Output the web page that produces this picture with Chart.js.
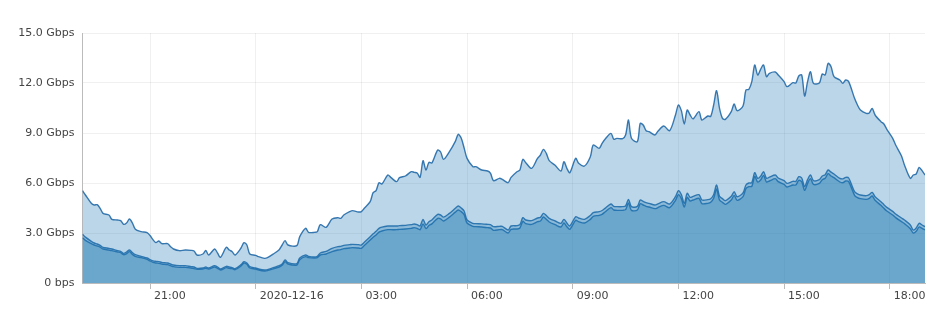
<!DOCTYPE html>
<html><head><meta charset="utf-8">
<script src="https://cdn.jsdelivr.net/npm/chart.js@4.4.1/dist/chart.umd.min.js"></script>
<style>html,body{margin:0;padding:0;background:#fff;}#wrap{width:943px;height:317px;position:relative;}</style>
</head><body><div id="wrap"><canvas id="c"></canvas></div>
<script>
// sample times in minutes relative to 2020-12-16 00:00 (negative = 2020-12-15)
const minutes = [-295,-290,-280,-275,-270,-265,-260,-250,-245,-235,-230,-225,-220,-215,-210,-205,-195,-185,-180,-175,-170,-165,-160,-150,-145,-140,-130,-120,-110,-105,-100,-90,-85,-80,-70,-65,-60,-50,-45,-40,-35,-25,-20,-15,-10,0,5,15,20,30,40,45,50,55,70,75,85,90,100,105,110,120,130,140,145,150,160,165,175,180,185,195,200,205,210,215,225,230,240,245,255,265,270,275,280,285,290,295,300,310,315,320,330,340,345,350,355,360,370,375,385,395,400,405,415,420,430,435,445,450,455,460,470,480,485,490,495,500,510,520,525,530,535,545,550,560,570,575,585,590,595,605,610,615,625,630,635,640,650,655,660,665,670,680,685,695,705,715,720,725,730,735,740,745,755,760,770,775,780,785,790,795,800,810,815,820,830,835,840,845,850,855,860,865,870,875,885,890,900,905,915,920,925,930,935,940,945,950,960,965,970,975,980,985,995,1000,1005,1010,1020,1025,1030,1040,1045,1050,1055,1065,1070,1075,1085,1090,1100,1105,1115,1120,1125,1130,1135,1140];
const totalGbps = [5.54,5.28,4.78,4.68,4.70,4.48,4.18,4.08,3.82,3.78,3.74,3.52,3.60,3.84,3.60,3.22,3.08,3.02,2.85,2.60,2.42,2.52,2.36,2.36,2.18,2.04,1.94,1.98,1.96,1.92,1.68,1.74,1.95,1.68,2.04,1.80,1.54,2.14,1.98,1.88,1.68,2.10,2.42,2.28,1.74,1.66,1.58,1.48,1.52,1.74,2.00,2.28,2.54,2.28,2.24,2.78,3.28,3.04,3.04,3.08,3.50,3.34,3.84,3.92,3.88,4.08,4.28,4.34,4.26,4.28,4.48,4.88,5.42,5.54,6.02,5.94,6.48,6.34,6.08,6.32,6.42,6.68,6.64,6.60,6.34,7.34,6.78,7.24,7.20,7.98,7.86,7.42,7.88,8.50,8.92,8.70,8.10,7.48,6.98,6.98,6.78,6.72,6.58,6.14,6.28,6.22,6.02,6.34,6.68,6.78,7.42,7.22,6.88,7.48,7.68,8.02,7.78,7.34,7.06,6.72,7.28,6.88,6.62,7.48,7.18,7.02,7.58,8.28,8.08,8.38,8.62,8.98,8.62,8.68,8.66,8.88,9.78,8.68,8.48,9.58,9.48,9.14,9.08,8.88,9.10,9.42,9.14,10.08,10.68,10.34,9.54,10.38,10.08,9.85,10.28,9.78,10.02,10.00,10.68,11.54,10.48,9.88,9.82,10.28,10.74,10.34,10.62,11.58,11.62,12.08,13.08,12.48,12.82,13.08,12.38,12.58,12.66,12.48,12.08,11.78,12.02,12.00,12.42,12.48,11.22,12.08,12.68,11.98,12.00,12.54,12.48,13.18,12.98,12.38,12.18,11.98,12.18,12.08,11.08,10.68,10.38,10.18,10.20,10.48,10.08,9.68,9.54,9.22,8.68,8.28,7.62,7.08,6.28,6.48,6.54,6.94,6.74,6.48];
const upperGbps = [2.92,2.75,2.50,2.40,2.34,2.26,2.14,2.08,2.04,1.94,1.90,1.78,1.86,1.98,1.82,1.70,1.60,1.50,1.40,1.33,1.30,1.28,1.24,1.20,1.14,1.08,1.04,1.04,0.98,0.96,0.88,0.90,0.96,0.90,1.04,0.96,0.84,1.00,0.96,0.92,0.86,1.10,1.28,1.20,0.98,0.90,0.84,0.78,0.80,0.92,1.04,1.14,1.38,1.22,1.16,1.50,1.68,1.60,1.56,1.60,1.80,1.90,2.08,2.18,2.20,2.26,2.30,2.32,2.30,2.28,2.45,2.78,2.95,3.10,3.28,3.35,3.42,3.42,3.42,3.44,3.46,3.50,3.54,3.50,3.42,3.82,3.48,3.68,3.78,4.12,4.08,3.95,4.18,4.48,4.62,4.50,4.32,3.78,3.58,3.56,3.55,3.52,3.50,3.38,3.40,3.40,3.18,3.42,3.44,3.50,3.92,3.78,3.74,3.90,3.94,4.18,4.05,3.88,3.72,3.58,3.82,3.60,3.42,3.98,3.90,3.82,4.05,4.22,4.28,4.35,4.48,4.74,4.60,4.58,4.58,4.62,5.02,4.58,4.60,4.98,4.90,4.82,4.78,4.68,4.75,4.88,4.74,5.18,5.54,5.30,4.78,5.38,5.14,5.20,5.30,4.98,5.00,5.06,5.30,5.88,5.20,5.06,4.94,5.20,5.48,5.18,5.40,5.88,6.00,6.02,6.62,6.28,6.40,6.68,6.28,6.35,6.48,6.30,6.14,5.98,6.10,6.10,6.38,6.30,5.78,6.20,6.48,6.14,6.20,6.42,6.50,6.78,6.65,6.54,6.28,6.25,6.34,6.30,5.48,5.35,5.28,5.24,5.30,5.44,5.18,4.88,4.70,4.54,4.30,4.14,3.90,3.78,3.48,3.18,3.30,3.58,3.48,3.38];
const lowerGbps = [2.72,2.56,2.36,2.28,2.22,2.15,2.04,1.98,1.94,1.86,1.82,1.70,1.76,1.88,1.72,1.60,1.52,1.42,1.32,1.24,1.20,1.18,1.14,1.10,1.04,0.98,0.94,0.94,0.90,0.86,0.82,0.84,0.88,0.84,0.96,0.88,0.78,0.92,0.88,0.86,0.80,1.02,1.20,1.12,0.90,0.84,0.78,0.72,0.74,0.85,0.96,1.06,1.28,1.14,1.08,1.40,1.58,1.52,1.50,1.52,1.68,1.74,1.88,1.98,2.00,2.06,2.10,2.12,2.10,2.08,2.25,2.58,2.75,2.88,3.05,3.12,3.20,3.20,3.20,3.22,3.24,3.28,3.32,3.28,3.20,3.55,3.26,3.45,3.55,3.88,3.85,3.72,3.95,4.25,4.38,4.28,4.10,3.60,3.40,3.38,3.36,3.32,3.30,3.16,3.20,3.20,3.00,3.22,3.24,3.30,3.70,3.56,3.52,3.68,3.72,3.96,3.82,3.66,3.50,3.36,3.60,3.38,3.22,3.76,3.68,3.60,3.82,4.00,4.06,4.12,4.26,4.52,4.38,4.36,4.36,4.40,4.80,4.36,4.38,4.76,4.68,4.60,4.56,4.46,4.52,4.66,4.52,4.96,5.30,5.06,4.56,5.14,4.92,4.98,5.08,4.76,4.78,4.84,5.08,5.64,4.98,4.84,4.72,4.98,5.26,4.96,5.18,5.66,5.78,5.80,6.40,6.06,6.18,6.46,6.06,6.12,6.26,6.08,5.92,5.76,5.88,5.88,6.16,6.08,5.56,5.98,6.26,5.92,5.98,6.20,6.28,6.56,6.42,6.32,6.06,6.02,6.12,6.08,5.26,5.12,5.06,5.02,5.08,5.22,4.96,4.66,4.48,4.32,4.08,3.92,3.68,3.56,3.26,3.00,3.10,3.36,3.28,3.18];

const xTickMinutes = [-180,0,180,360,540,720,900,1080];
const xTickLabels = ['21:00','2020-12-16','03:00','06:00','09:00','12:00','15:00','18:00'];
const yTickValues = [0,3,6,9,12,15];
const yTickLabels = ['0 bps','3.0 Gbps','6.0 Gbps','9.0 Gbps','12.0 Gbps','15.0 Gbps'];

const fillColor = 'rgba(31,119,180,0.3)';
const lineColor = 'rgba(36,106,168,0.9)';
function series(vals){ return minutes.map((m,i)=>({x:m,y:vals[i]})); }
function ds(vals){
  return {data:series(vals),fill:'origin',backgroundColor:fillColor,borderColor:lineColor,
    borderWidth:1.4,pointRadius:0,tension:0.3};
}
const font = {family:'"DejaVu Sans", Verdana, sans-serif', size:11};
Chart.defaults.font = font;
Chart.defaults.color = '#444';
new Chart(document.getElementById('c'), {
  type:'line',
  data:{datasets:[ds(totalGbps),ds(upperGbps),ds(lowerGbps)]},
  options:{
    responsive:true, maintainAspectRatio:false, animation:false,
    layout:{padding:{top:33,right:18,bottom:0,left:0}},
    plugins:{legend:{display:false},tooltip:{enabled:false}},
    scales:{
      x:{type:'linear',min:-295,max:1140,
        afterBuildTicks:s=>{s.ticks=xTickMinutes.map(v=>({value:v}));},
        afterFit:s=>{s.height=34;},
        ticks:{autoSkip:false,maxRotation:0,minRotation:0,align:'start',labelOffset:4,padding:1,color:'#444',font:font,
          callback:v=>{const i=xTickMinutes.indexOf(v);return i>=0?xTickLabels[i]:'';}},
        grid:{color:'rgba(0,0,0,0.06)',tickColor:'#bbb',tickLength:6,drawTicks:true},
        border:{color:'#bbb',width:1}
      },
      y:{min:0,max:15,
        afterBuildTicks:s=>{s.ticks=yTickValues.map(v=>({value:v}));},
        afterFit:s=>{s.width=82.5;},
        ticks:{padding:8,color:'#444',font:font,
          callback:v=>{const i=yTickValues.indexOf(v);return i>=0?yTickLabels[i]:'';}},
        grid:{color:'rgba(0,0,0,0.06)',drawTicks:false},
        border:{color:'#bbb',width:1}
      }
    }
  }
});
</script></body></html>
